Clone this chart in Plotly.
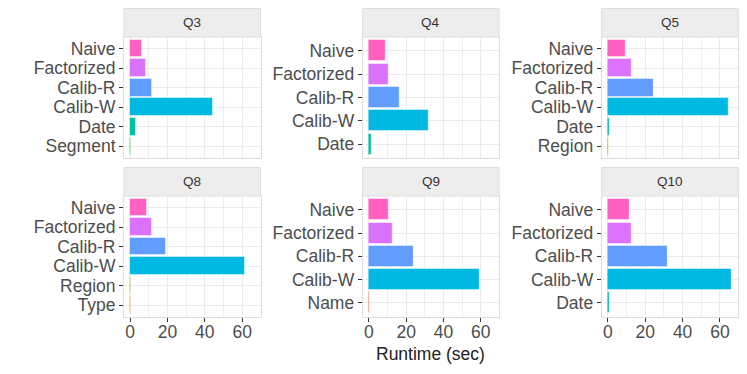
import plotly.graph_objects as go

queries = ['Q3', 'Q4', 'Q5', 'Q8', 'Q9', 'Q10']

q3_methods = ['Segment', 'Date', 'Calib-W', 'Calib-R', 'Factorized', 'Naive']
q3_runtime = [0.7, 3.3, 44.4, 11.8, 8.3, 6.4]

q4_methods = ['Date', 'Calib-W', 'Calib-R', 'Factorized', 'Naive']
q4_runtime = [1.7, 32.0, 16.6, 10.4, 9.0]

q5_methods = ['Region', 'Date', 'Calib-W', 'Calib-R', 'Factorized', 'Naive']
q5_runtime = [0.2, 1.0, 64.7, 24.4, 12.8, 9.5]

q8_methods = ['Type', 'Region', 'Calib-W', 'Calib-R', 'Factorized', 'Naive']
q8_runtime = [0.5, 0.3, 61.5, 19.0, 11.7, 8.9]

q9_methods = ['Name', 'Calib-W', 'Calib-R', 'Factorized', 'Naive']
q9_runtime = [0.3, 59.4, 24.0, 12.9, 10.8]

q10_methods = ['Date', 'Calib-W', 'Calib-R', 'Factorized', 'Naive']
q10_runtime = [1.0, 66.0, 32.1, 12.8, 11.9]

x_ticks = [0, 20, 40, 60]
x_minor = [10, 30, 50]

methods = [q3_methods, q4_methods, q5_methods, q8_methods, q9_methods, q10_methods]
runtimes = [q3_runtime, q4_runtime, q5_runtime, q8_runtime, q9_runtime, q10_runtime]

# ggplot default hue palette for the 9 factor levels
colors = {
    'Name': '#F8766D', 'Type': '#D39200', 'Region': '#93AA00',
    'Segment': '#00BA38', 'Date': '#00C19F', 'Calib-W': '#00B9E3',
    'Calib-R': '#619CFF', 'Factorized': '#DB72FB', 'Naive': '#FF61C3',
}

W, H = 747, 374
col_px = [(124, 260.5), (362.7, 499), (601.7, 738.3)]
row_px = [(37, 158), (196, 316.7)]
strip_h = 28.5

fig = go.Figure()
layout = {}

for i, q in enumerate(queries):
    r, c = divmod(i, 3)
    n = i + 1
    xa = 'xaxis' if n == 1 else 'xaxis%d' % n
    ya = 'yaxis' if n == 1 else 'yaxis%d' % n
    xr = 'x' if n == 1 else 'x%d' % n
    yr = 'y' if n == 1 else 'y%d' % n

    x0, x1 = col_px[c]
    y0, y1 = row_px[r]

    fig.add_trace(go.Bar(
        x=runtimes[i], y=methods[i], orientation='h', width=0.9,
        marker=dict(color=[colors[m] for m in methods[i]],
                    line=dict(color='rgba(255,255,255,0.45)', width=1)),
        xaxis=xr, yaxis=yr, showlegend=False,
    ))

    layout[xa] = dict(
        domain=[x0 / W, x1 / W], anchor=yr, range=[-3.3, 69.8], automargin=False,
        tickmode='array', tickvals=x_ticks, showticklabels=(r == 1),
        ticks='outside' if r == 1 else '', ticklen=4, tickcolor='#333333',
        ticklabelstandoff=-5,
        tickfont=dict(size=17.5, color='#4D4D4D'),
        showgrid=True, gridcolor='#EBEBEB', gridwidth=1.2,
        minor=dict(tickvals=x_minor, showgrid=True, gridcolor='#EFEFEF', gridwidth=0.7),
        zeroline=False, showline=True, mirror=True, linecolor='#DDDDDD', linewidth=1,
    )
    layout[ya] = dict(
        domain=[1 - y1 / H, 1 - y0 / H], anchor=xr, type='category', automargin=False,
        categoryorder='array', categoryarray=methods[i],
        tickmode='array', tickvals=methods[i], ticktext=methods[i],
        range=[-0.6, len(methods[i]) - 0.4],
        ticks='outside', ticklen=4, tickcolor='#333333',
        tickfont=dict(size=17.5, color='#4D4D4D'),
        showgrid=True, gridcolor='#EBEBEB', gridwidth=1.2,
        zeroline=False, showline=True, mirror=True, linecolor='#DDDDDD', linewidth=1,
    )

    # facet strip
    fig.add_shape(type='rect', xref='paper', yref='paper',
                  x0=x0 / W, x1=x1 / W, y0=1 - y0 / H, y1=1 - (y0 - strip_h) / H,
                  fillcolor='#EDEDED', line=dict(color='#DDDDDD', width=1))
    fig.add_annotation(text=q, xref='paper', yref='paper',
                       x=(x0 + x1) / 2 / W, y=1 - (y0 - strip_h / 2) / H,
                       xanchor='center', yanchor='middle',
                       showarrow=False, font=dict(size=13.5, color='#333333'))

fig.add_annotation(text='Runtime (sec)', xref='paper', yref='paper',
                   x=(col_px[1][0] + col_px[1][1]) / 2 / W, y=1 - 354 / H,
                   xanchor='center', yanchor='middle',
                   showarrow=False, font=dict(size=17.5, color='#222222'))

fig.update_layout(
    width=W, height=H, margin=dict(l=0, r=0, t=0, b=0),
    paper_bgcolor='white', plot_bgcolor='white',
    font=dict(family='Liberation Sans, Arial, sans-serif'),
    bargap=0,
    **layout
)

fig.write_html('out.html', config={'displayModeBar': False},
               post_script="document.body.style.margin='0';")
